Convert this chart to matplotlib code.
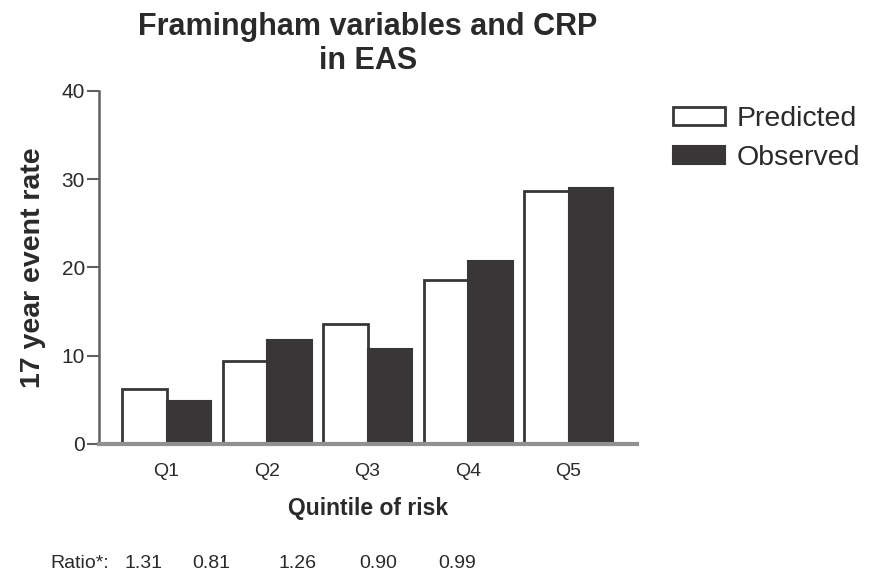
import matplotlib
matplotlib.use("Agg")
import matplotlib.pyplot as plt
import numpy as np

plt.rcParams['font.family'] = ['Liberation Sans', 'DejaVu Sans']

quintiles = ["Q1", "Q2", "Q3", "Q4", "Q5"]
predicted = [6.2, 9.4, 13.6, 18.6, 28.7]
observed = [4.9, 11.8, 10.8, 20.7, 29.0]
ratios = ["1.31", "0.81", "1.26", "0.90", "0.99"]

dark = "#383637"
txt = "#2a2a2a"

fig = plt.figure(figsize=(8.76, 5.75), dpi=100)
ax = fig.add_axes([0.113, 0.228, 0.614, 0.614])

x = np.arange(len(quintiles))
w = 0.443
ax.bar(x - w / 2, predicted, w, color="white", edgecolor=dark, linewidth=2, label="Predicted")
ax.bar(x + w / 2, observed, w, color=dark, edgecolor=dark, linewidth=1.5, label="Observed")

ax.set_ylim(0, 40)
ax.set_xlim(-0.673, 4.68)
ax.set_yticks([0, 10, 20, 30, 40])
ax.set_xticks(x)
ax.set_xticklabels(quintiles)

for s in ["top", "right"]:
    ax.spines[s].set_visible(False)
ax.spines["left"].set_color("#606060")
ax.spines["left"].set_linewidth(1.8)
ax.spines["bottom"].set_color("#909090")
ax.spines["bottom"].set_linewidth(3)
ax.tick_params(axis="y", length=9, width=1.5, color="#606060", labelsize=15, labelcolor=txt, pad=1)
ax.tick_params(axis="x", length=0, labelsize=14, labelcolor=txt, pad=14)

ax.set_ylabel("17 year event rate", fontsize=20.5, fontweight="bold", color=txt, labelpad=11)
ax.set_xlabel("Quintile of risk", fontsize=16.5, fontweight="bold", color=txt, labelpad=12)
ax.set_title("Framingham variables and CRP\nin EAS", fontsize=22, fontweight="bold",
             color=txt, pad=16, linespacing=1.15)

leg = ax.legend(loc="upper left", bbox_to_anchor=(1.067, 0.957), frameon=False, fontsize=20.5,
                borderpad=0, borderaxespad=0, handlelength=1.83, handleheight=0.62,
                labelspacing=0.45, handletextpad=0.4)
for t in leg.get_texts():
    t.set_color(txt)

# ratio row under the axis label
fig.text(50 / 876, 0.012, "Ratio*:", fontsize=14, color=txt, ha="left", va="baseline")
ratio_x = [143, 211, 297, 378, 457]
for rx, r in zip(ratio_x, ratios):
    fig.text(rx / 876, 0.012, r, fontsize=14, color=txt, ha="center", va="baseline")

fig.savefig("out.png", dpi=100)
